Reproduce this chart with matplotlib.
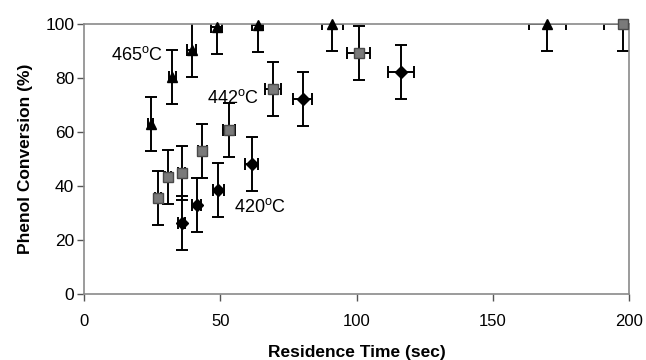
import numpy as np
import matplotlib.pyplot as plt

# ── Data ─────────────────────────────────────────────────────────────────────
# 465 C series (black triangles)
t465 = [24.5, 32.4, 39.5, 48.7, 63.7, 91.1, 170.0]
c465 = [63.0, 80.5, 90.4, 99.0, 99.6, 100.0, 100.0]
xe465 = [1.0, 1.3, 1.6, 2.0, 2.0, 3.8, 6.9]
ye465 = [10, 10, 10, 10, 10, 10, 10]

# 442 C series (grey squares)
t442 = [27.3, 30.9, 35.8, 43.4, 53.2, 69.2, 100.7, 197.7]
c442 = [35.7, 43.5, 44.7, 53.1, 60.7, 75.8, 89.4, 100.0]
xe442 = [1.1, 1.2, 1.4, 1.7, 2.1, 2.9, 4.1, 7.0]
ye442 = [10, 10, 10, 10, 10, 10, 10, 10]

# 420 C series (black diamonds)
t420 = [35.8, 41.3, 49.3, 61.5, 80.3, 116.3]
c420 = [26.5, 33.0, 38.5, 48.2, 72.1, 82.4]
xe420 = [1.4, 1.6, 2.0, 2.5, 3.5, 4.6]
ye420 = [10, 10, 10, 10, 10, 10]

labels = ["465$^{\\rm o}$C", "442$^{\\rm o}$C", "420$^{\\rm o}$C"]
label_pos = [(10.0, 88.5), (45.0, 72.5), (55.2, 32.3)]

plt.rcParams['font.family'] = ['Liberation Sans', 'DejaVu Sans']
plt.rcParams['mathtext.fontset'] = 'custom'
plt.rcParams['mathtext.rm'] = 'Liberation Sans'

fig = plt.figure(figsize=(6.46, 3.6), dpi=100)
ax = fig.add_axes([0.130, 0.183, 0.844, 0.750])

# error bars are clipped at the axes box, markers are not
bars = dict(fmt="none", ecolor="black", elinewidth=1.4, capsize=4, capthick=1.4)
ax.errorbar(t465, c465, yerr=ye465, xerr=xe465, **bars)
ax.errorbar(t442, c442, yerr=ye442, xerr=xe442, **bars)
ax.errorbar(t420, c420, yerr=ye420, xerr=xe420, **bars)

ax.plot(t465, c465, "^", color="black", ms=7.5, ls="none", clip_on=False, zorder=4)
ax.plot(t442, c442, "s", color="#7a7a7a", mec="#4a4a4a", ms=6.5, ls="none",
        clip_on=False, zorder=4)
ax.plot(t420, c420, "D", color="black", ms=6.5, ls="none", clip_on=False, zorder=4)

for txt, (x, y) in zip(labels, label_pos):
    ax.text(x, y, txt, fontsize=13, ha="left", va="center")

ax.set_xlim(0, 200)
ax.set_ylim(0, 100)
ax.set_xticks([0, 50, 100, 150, 200])
ax.set_yticks([0, 20, 40, 60, 80, 100])
ax.tick_params(length=5, width=1, color="#555555")
ax.tick_params(axis="x", labelsize=12, pad=9)
ax.tick_params(axis="y", labelsize=12.5, pad=2)
for s in ax.spines.values():
    s.set_color("#8a8a8a")
    s.set_linewidth(1.2)

ax.set_xlabel("Residence Time (sec)", fontsize=12.5, fontweight="bold", labelpad=12)
ax.set_ylabel("Phenol Conversion (%)", fontsize=12.5, fontweight="bold", labelpad=9)

fig.savefig("out.png", dpi=100)
